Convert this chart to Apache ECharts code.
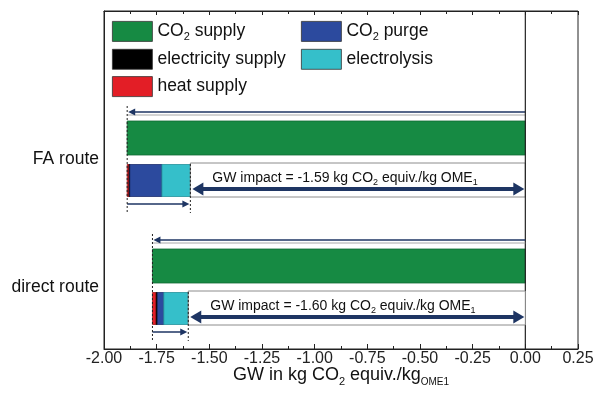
<!DOCTYPE html>
<html>
<head>
<meta charset="utf-8">
<script src="https://cdn.jsdelivr.net/npm/echarts@6/dist/echarts.min.js"></script>
<style>html,body{margin:0;padding:0;background:#fff}#c{width:594px;height:404px}</style>
</head>
<body>
<div id="c"></div>
<script>
// ---- data ----
const routes = ['FA route', 'direct route'];
const co2Supply = [-1.89, -1.77];
const heatSupply = [0.009, 0.018];
const electricitySupply = [0.004, 0.006];
const co2Purge = [0.152, 0.030];
const electrolysis = [0.135, 0.116];
const netImpact = [-1.59, -1.60];
const xMin = -2.0, xMax = 0.25, xStep = 0.25;

// ---- styling ----
const FONT = '"Liberation Sans", Arial, sans-serif';
const COL = {
  'CO2 supply': '#168a43',
  'electricity supply': '#000000',
  'heat supply': '#e31e26',
  'CO2 purge': '#2c4a9e',
  'electrolysis': '#35bfca'
};
const STROKE = {
  'CO2 supply': '#0f6a32',
  'electricity supply': '#000000',
  'heat supply': '#9a1a1e',
  'CO2 purge': '#1d2f6e',
  'electrolysis': '#24919a'
};
const NAVY = '#1e3563';

// component segments (stacked from CO2 supply level toward the net)
const comps = [
  ['heat supply', heatSupply],
  ['electricity supply', electricitySupply],
  ['CO2 purge', co2Purge],
  ['electrolysis', electrolysis]
];
const segData = {};
routes.forEach((r, i) => {
  let cur = co2Supply[i];
  comps.forEach(([name, arr]) => {
    (segData[name] = segData[name] || []).push([cur, cur + arr[i], i + 1]);
    cur += arr[i];
  });
});

function segRender(top, h, name) {
  return function (params, api) {
    const s = api.coord([api.value(0), api.value(2)]);
    const e = api.coord([api.value(1), api.value(2)]);
    return {
      type: 'rect',
      shape: { x: s[0], y: s[1] + top, width: e[0] - s[0], height: h },
      style: { fill: COL[name], stroke: STROKE[name], lineWidth: 0.8 }
    };
  };
}

const series = [];
series.push({
  name: 'CO2 supply', type: 'custom', z: 3,
  itemStyle: { color: COL['CO2 supply'] },
  encode: { x: [0, 1], y: 2 },
  data: routes.map((r, i) => [co2Supply[i], 0, i + 1]),
  renderItem: segRender(-38, 34, 'CO2 supply')
});
comps.forEach(([name]) => {
  series.push({
    name: name, type: 'custom', z: 4,
    itemStyle: { color: COL[name] },
    encode: { x: [0, 1], y: 2 },
    data: segData[name],
    renderItem: segRender(5.5, 32, name)
  });
});

function tri(p1, p2, p3, fill) {
  return { type: 'polygon', shape: { points: [p1, p2, p3] }, style: { fill: fill } };
}
function line(x1, y1, x2, y2, stroke, w, dash) {
  return { type: 'line', shape: { x1, y1, x2, y2 }, style: { stroke, lineWidth: w, lineDash: dash || null } };
}

// annotation series: arrows, dashed guides, box, text, zero line
series.push({
  name: 'annot', type: 'custom', z: 5,
  encode: { x: [0, 1], y: 2 },
  data: routes.map((r, i) => [co2Supply[i], netImpact[i], i + 1]),
  renderItem: function (params, api) {
    const i = params.dataIndex;
    const g = api.coord([api.value(0), api.value(2)]);
    const n = api.coord([api.value(1), api.value(2)]);
    const z = api.coord([0, api.value(2)]);
    const c = g[1];
    const xg = g[0], xn = n[0], x0 = z[0];
    const ch = [];
    ch.push({ type: 'rect', shape: { x: xn, y: c + 4, width: x0 - xn, height: 34 },
      style: { fill: '#fff', stroke: '#8c8c8c', lineWidth: 1 }, z2: 0 });
    ch.push(line(xg, c - 44, x0, c - 44, '#a8a8a8', 1));
    ch.push(line(xg + 5, c - 47, x0, c - 47, NAVY, 1.6));
    ch.push(tri([xg + 1, c - 47], [xg + 8, c - 50.5], [xg + 8, c - 43.5], NAVY));
    const ya = c + 30;
    ch.push(line(xn + 10, ya, x0 - 10, ya, NAVY, 4));
    ch.push(tri([xn + 2, ya], [xn + 13, ya - 6.5], [xn + 13, ya + 6.5], NAVY));
    ch.push(tri([x0 - 1, ya], [x0 - 12, ya - 6.5], [x0 - 12, ya + 6.5], NAVY));
    const yb = c + 45;
    ch.push(line(xg, yb, xn - 5, yb, NAVY, 1.5));
    ch.push(tri([xn - 1, yb], [xn - 8, yb - 3.5], [xn - 8, yb + 3.5], NAVY));
    ch.push(line(xg, c - 53, xg, c + 54, '#222', 1, [2, 2]));
    ch.push(line(xn, c + 5, xn, c + 54, '#222', 1, [2, 2]));
    ch.push({ type: 'text', x: xn + 22, y: c + 19,
      style: {
        text: '{a|GW impact = ' + netImpact[i].toFixed(2) + ' kg CO}{s|2}{a| equiv./kg OME}{s|1}',
        verticalAlign: 'middle', align: 'left',
        rich: {
          a: { fontSize: 14, fontFamily: FONT, fill: '#111', lineHeight: 18 },
          s: { fontSize: 9, fontFamily: FONT, fill: '#111', lineHeight: 9, verticalAlign: 'bottom' }
        }
      }, z2: 10 });
    if (i === 0) {
      const cs = params.coordSys;
      ch.push(line(x0, cs.y, x0, cs.y + cs.height, '#222', 1.2));
    }
    return { type: 'group', children: ch };
  }
});

const legendNames = {
  'CO2 supply': '{n|CO}{s|2}{n| supply}',
  'electricity supply': '{n|electricity supply}',
  'heat supply': '{n|heat supply}',
  'CO2 purge': '{n|CO}{s|2}{n| purge}',
  'electrolysis': '{n|electrolysis}'
};
const legendBase = {
  orient: 'vertical', top: 21, padding: 0,
  itemWidth: 40, itemHeight: 20, itemGap: 6.5, icon: 'rect',
  itemStyle: { borderColor: '#333', borderWidth: 0.8 },
  selectedMode: false,
  formatter: n => legendNames[n],
  textStyle: {
    rich: {
      n: { fontSize: 17.5, fontFamily: FONT, color: '#111', lineHeight: 22 },
      s: { fontSize: 11, fontFamily: FONT, color: '#111', lineHeight: 10, verticalAlign: 'bottom' }
    }
  }
};

const tickCommon = {
  axisTick: { show: true, inside: true, length: 5, lineStyle: { color: '#222' } },
  minorTick: { show: true, splitNumber: 2, length: 3, lineStyle: { color: '#222' } },
  splitLine: { show: false }
};

const option = {
  animation: false,
  backgroundColor: '#fff',
  grid: { left: 104, right: 16, top: 11, bottom: 55, outerBoundsMode: 'none', containLabel: false,
    show: true, borderColor: '#222', borderWidth: 1, backgroundColor: 'transparent' },
  legend: [
    Object.assign({}, legendBase, { left: 112, data: ['CO2 supply', 'electricity supply', 'heat supply'] }),
    Object.assign({}, legendBase, { left: 301, data: ['CO2 purge', 'electrolysis'] })
  ],
  xAxis: [
    Object.assign({
      type: 'value', position: 'bottom', min: xMin, max: xMax, interval: xStep,
      axisLine: { show: true, onZero: false, lineStyle: { color: '#222', width: 1 } },
      axisLabel: { formatter: v => v.toFixed(2), fontSize: 16, fontFamily: FONT, color: '#222', margin: 2 },
      name: '{n|GW in kg CO}{s|2}{n| equiv./kg}{t|OME1}',
      nameLocation: 'middle', nameGap: 14, nameMoveOverlap: false,
      nameTextStyle: {
        rich: {
          n: { fontSize: 18, fontFamily: FONT, color: '#111', lineHeight: 24 },
          s: { fontSize: 11, fontFamily: FONT, color: '#111', lineHeight: 10, verticalAlign: 'bottom' },
          t: { fontSize: 10, fontFamily: FONT, color: '#111', lineHeight: 8, verticalAlign: 'bottom' }
        }
      }
    }, tickCommon),
    Object.assign({
      type: 'value', position: 'top', min: xMin, max: xMax, interval: xStep,
      axisLine: { show: true, onZero: false, lineStyle: { color: '#222', width: 1 } },
      axisLabel: { show: false }
    }, tickCommon, { axisTick: { show: true, inside: true, length: 4, lineStyle: { color: '#222' } } })
  ],
  yAxis: {
    type: 'value', inverse: true, min: -0.15625, max: 2.484375,
    axisLine: { show: true, onZero: false, lineStyle: { color: '#222' } },
    axisTick: { show: false },
    splitLine: { show: false },
    axisLabel: {
      customValues: [1, 2],
      formatter: v => routes[Math.round(v) - 1] || '',
      fontSize: 17.5, fontFamily: FONT, color: '#111', margin: 5
    }
  },
  series: series
};

const chart = echarts.init(document.getElementById('c'), null, { renderer: 'canvas' });
chart.setOption(option);
</script>
</body>
</html>
